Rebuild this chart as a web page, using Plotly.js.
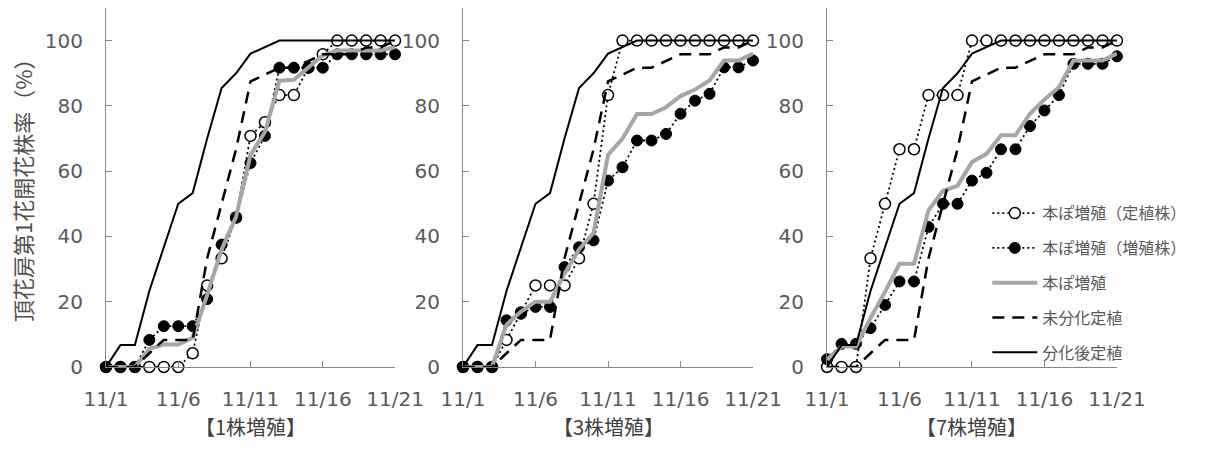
<!DOCTYPE html>
<html><head><meta charset="utf-8">
<script src="https://cdn.plot.ly/plotly-3.0.1.min.js"></script>
<style>html,body{margin:0;padding:0;background:#fff}#chart{width:1207px;height:451px}</style>
</head><body><div id="chart"></div>
<script>
// ---- data ----
const days = [1,2,3,4,5,6,7,8,9,10,11,12,13,14,15,16,17,18,19,20,21];
const tickVals = [1,6,11,16,21];
const tickLabels = ['11/1','11/6','11/11','11/16','11/21'];
const yTicks = [0,20,40,60,80,100];
const seriesNames = ['本ぽ増殖（定植株）','本ぽ増殖（増殖株）','本ぽ増殖','未分化定植','分化後定植'];
const panelTitles = ['【1株増殖】','【3株増殖】','【7株増殖】'];
const yTitle = '頂花房第1花開花株率（%）';

// panel 1 (1株増殖)
const p1Planted = [0,0,0,0,0,0,4.2,25,33.3,45.8,70.8,75,83.3,83.3,91.7,95.8,100,100,100,100,100];
const p1Propagated = [0,0,0,8.3,12.5,12.5,12.5,20.8,37.5,45.8,62.5,70.8,91.7,91.7,91.7,91.7,95.8,95.8,95.8,95.8,95.8];
const p1Field = [0,0,0,5.6,6.9,6.9,9,22,36,46,65,72,87.7,88,91.7,95.5,97,97,97,97,98];
// panel 2 (3株増殖)
const p2Planted = [0,0,0,8.3,16.7,25,25,25,33.3,50,83.3,100,100,100,100,100,100,100,100,100,100];
const p2Propagated = [0,0,0,14.3,16.3,18.4,18.4,30.6,36.7,38.8,57.1,61.2,69.4,69.4,71.4,77.6,81.6,83.7,91.8,91.8,93.9];
const p2Field = [0,0,0,13,17,20,20,28.6,36,41,65,70,77.5,77.5,79.6,83,85,87.8,93.9,93.9,96];
// panel 3 (7株増殖)
const p3Planted = [0,0,0,33.3,50,66.7,66.7,83.3,83.3,83.3,100,100,100,100,100,100,100,100,100,100,100];
const p3Propagated = [2.4,7.1,7.1,11.9,19,26.2,26.2,42.9,50,50,57.1,59.5,66.7,66.7,73.8,78.6,83.3,92.9,92.9,92.9,95.2];
const p3Field = [2.2,6.3,6.3,15,23,31.6,31.6,48,54,55.5,62.8,65.3,71,71,77.6,82,85.7,93.9,93.9,93.9,96];
// controls (same in every panel)
const undiffPlanting = [0,0,0,4.2,8.3,8.3,8.3,33.3,50,66.7,87.5,89.6,91.7,91.7,93.8,95.8,95.8,95.8,97.9,97.9,100];
const diffPlanting = [0,6.7,6.7,23.3,36.7,50,53.3,70,85.5,90,96,98,100,100,100,100,100,100,100,100,100];

const panels = [
  {planted:p1Planted, propagated:p1Propagated, field:p1Field},
  {planted:p2Planted, propagated:p2Propagated, field:p2Field},
  {planted:p3Planted, propagated:p3Propagated, field:p3Field}
];

// ---- styles ----
const styles = [
  {mode:'lines+markers', line:{color:'#000',width:1.8,dash:'2px,3px'}, marker:{symbol:'circle',size:11,color:'#fff',line:{color:'#000',width:1.5}}},
  {mode:'lines+markers', line:{color:'#000',width:1.8,dash:'2px,3px'}, marker:{symbol:'circle',size:11,color:'#000',line:{color:'#000',width:1}}},
  {mode:'lines', line:{color:'#a6a6a6',width:4}},
  {mode:'lines', line:{color:'#000',width:2.5,dash:'12px,8px'}},
  {mode:'lines', line:{color:'#000',width:2}}
];

const traces = [];
panels.forEach((p, i) => {
  const xa = i === 0 ? 'x' : 'x' + (i + 1);
  const ya = i === 0 ? 'y' : 'y' + (i + 1);
  const ys = [p.planted, p.propagated, p.field, undiffPlanting, diffPlanting];
  ys.forEach((yv, k) => {
    const t = Object.assign({
      type:'scatter', x:days, y:yv, xaxis:xa, yaxis:ya,
      name:seriesNames[k], cliponaxis:false, hoverinfo:'x+y',
      showlegend: i === 2
    }, JSON.parse(JSON.stringify(styles[k])));
    if (i === 2) t.legendgroup = 'g' + k;
    traces.push(t);
  });
});

const xDomains = [[0.0878,0.3273],[0.3836,0.6239],[0.6852,0.9254]];
const yDomain = [0.1863,0.9823];
const axisCol = '#868686';
const tickFont = {family:'DejaVu Sans, sans-serif', size:20, color:'#595959'};

const layout = {
  width:1207, height:451,
  margin:{l:0,r:0,t:0,b:0},
  paper_bgcolor:'#fff', plot_bgcolor:'rgba(0,0,0,0)',
  font:{family:'Noto Sans CJK JP, sans-serif', color:'#595959'},
  showlegend:true,
  legend:{x:0.818, y:0.565, xanchor:'left', yanchor:'top', bgcolor:'rgba(0,0,0,0)',
          traceorder:'grouped', tracegroupgap:11, itemwidth:45,
          font:{family:'Noto Sans CJK JP, sans-serif', size:16, color:'#595959'}},
  annotations:[
    {text:yTitle, xref:'paper', yref:'paper', x:0.0182, y:0.59, textangle:-90, showarrow:false,
     xanchor:'center', yanchor:'middle', font:{family:'Noto Sans CJK JP, sans-serif', size:22, color:'#505050'}}
  ]
};

panelTitles.forEach((txt, i) => {
  const sfx = i === 0 ? '' : String(i + 1);
  layout['xaxis' + sfx] = {
    domain:xDomains[i], range:[1,21], anchor:'y' + sfx,
    tickmode:'array', tickvals:tickVals, ticktext:tickLabels,
    ticks:'inside', ticklen:6, tickcolor:axisCol, tickwidth:1,
    showline:true, linecolor:axisCol, linewidth:1,
    showgrid:false, zeroline:false, tickfont:tickFont, ticklabelstandoff:14, fixedrange:true
  };
  layout['yaxis' + sfx] = {
    domain:yDomain, range:[0,110], anchor:'x' + sfx,
    tickmode:'array', tickvals:yTicks,
    ticks:'inside', ticklen:6, tickcolor:axisCol, tickwidth:1,
    showline:true, linecolor:axisCol, linewidth:1,
    showgrid:false, zeroline:false, tickfont:tickFont, ticklabelstandoff:18, fixedrange:true
  };
  layout.annotations.push({
    text:txt, xref:'x' + sfx, yref:'paper', x:11, y:0.054, showarrow:false,
    xanchor:'center', yanchor:'middle',
    font:{family:'Noto Sans CJK JP, sans-serif', size:20, color:'#404040'}
  });
});

Plotly.newPlot('chart', traces, layout, {displayModeBar:false, staticPlot:true});
</script>
</body></html>
